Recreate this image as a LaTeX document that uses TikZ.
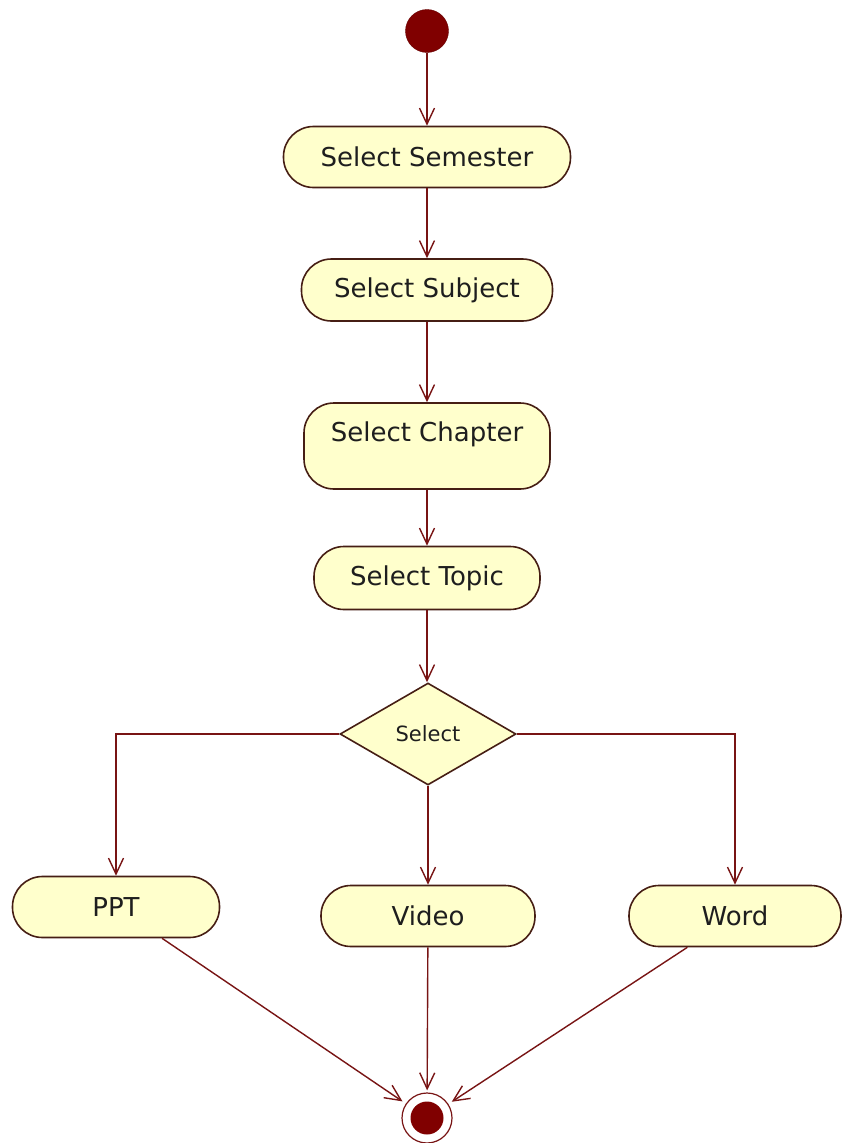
\documentclass[tikz,border=0pt]{standalone}
\usepackage{fontspec}
\setmainfont{DejaVu Sans}
\usetikzlibrary{arrows.meta,shapes.geometric,calc}
\definecolor{boxfill}{RGB}{255,255,204}
\definecolor{boxline}{RGB}{70,30,20}
\definecolor{flowline}{RGB}{120,20,20}
\definecolor{dotred}{RGB}{128,0,0}
\definecolor{txt}{RGB}{30,30,30}
\begin{document}
\begin{tikzpicture}[x=1pt,y=-1pt,
  activity/.style={draw=boxline, line width=1.6pt, fill=boxfill, rounded corners=30pt,
    font=\fontsize{26}{30}\selectfont, text=txt, inner sep=4pt},
  decision/.style={draw=boxline, line width=1.6pt, fill=boxfill, diamond, inner sep=0pt,
    minimum width=176pt, minimum height=102pt, font=\fontsize{21}{25}\selectfont, text=txt},
  flow/.style={draw=flowline, line width=1.4pt,
    -{Straight Barb[length=16pt,width=15pt,line width=1.4pt]}}
]
\useasboundingbox (0,0) rectangle (843,1143);
\fill[white] (0,0) rectangle (843,1143);

\node[circle, fill=dotred, draw=dotred!80!black, minimum size=43pt, inner sep=0pt] (init) at (427,31) {};
\node[activity, minimum width=287pt, minimum height=61pt] (sem) at (427,157) {Select Semester};
\node[activity, minimum width=251pt, minimum height=62pt] (subj) at (427,290) {Select Subject};
\node[activity, minimum width=246pt, minimum height=86pt, text height=20pt, text depth=29pt] (chap) at (427,446) {Select Chapter};
\node[activity, minimum width=226pt, minimum height=63pt] (topic) at (427,578) {Select Topic};
\node[decision] (dec) at (428,734) {Select};
\node[activity, minimum width=207pt, minimum height=61pt] (ppt) at (116,907) {PPT};
\node[activity, minimum width=214pt, minimum height=61pt] (video) at (428,916) {Video};
\node[activity, minimum width=212pt, minimum height=61pt] (word) at (735,916) {Word};
\node[circle, draw=flowline, line width=1.2pt, fill=white, minimum size=50pt, inner sep=0pt] (fin) at (427,1118) {};
\node[circle, fill=dotred, minimum size=33pt, inner sep=0pt] (findot) at (fin.center) {};

\draw[flow] (init) -- (sem);
\draw[flow] (sem) -- (subj);
\draw[flow] (subj) -- (chap);
\draw[flow] (chap) -- (topic);
\draw[flow] (topic.south) -- (topic.south |- dec.north);
\draw[flow] (dec.west) -| (ppt.north);
\draw[flow] (dec.south) -- (video.north);
\draw[flow] (dec.east) -| (word.north);
\draw[flow, shorten >=4pt] (ppt) -- (fin);
\draw[flow, shorten >=2pt] (video) -- (fin);
\draw[flow, shorten >=4pt] (word) -- (fin);
\end{tikzpicture}
\end{document}
